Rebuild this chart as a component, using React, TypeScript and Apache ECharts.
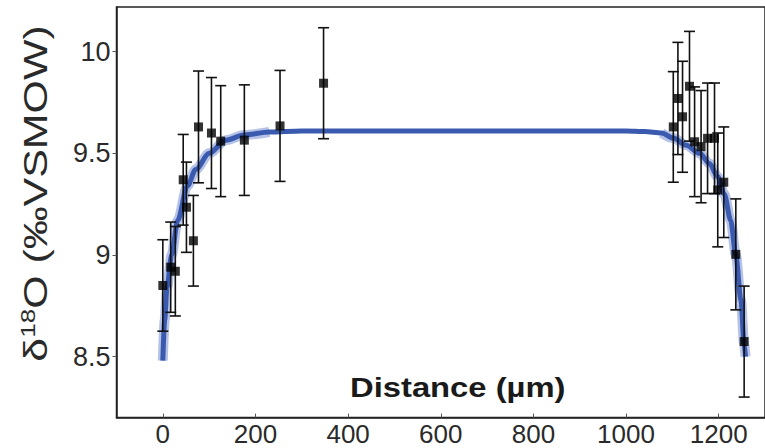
import React, { useEffect, useRef } from "react";
import * as echarts from "echarts";

// Tick labels
const xTicks = [0, 200, 400, 600, 800, 1000, 1200];
const yTicks = [8.5, 9, 9.5, 10];

// Measured points (distance µm, δ18O, error)
const pointX = [0, 17, 27, 44, 51, 66, 77, 105, 125, 176, 253, 347, 1102, 1112, 1122, 1137, 1148, 1162, 1176, 1191, 1198, 1211, 1237, 1255];
const pointY = [8.85, 8.94, 8.92, 9.37, 9.235, 9.07, 9.63, 9.6, 9.56, 9.565, 9.635, 9.845, 9.63, 9.77, 9.68, 9.83, 9.557, 9.533, 9.574, 9.574, 9.32, 9.358, 9.003, 8.574];
const pointErr = [0.225, 0.222, 0.22, 0.223, 0.222, 0.223, 0.275, 0.273, 0.273, 0.272, 0.273, 0.273, 0.272, 0.276, 0.273, 0.27, 0.27, 0.276, 0.272, 0.272, 0.28, 0.272, 0.273, 0.273];

// Model curve
const curveX = [0, 4, 9, 19, 32, 53, 71, 100, 136, 175, 230, 300, 400, 600, 800, 1000, 1040, 1077, 1102, 1130, 1159, 1180, 1198, 1212, 1226, 1237, 1248, 1255, 1258];
const curveY = [8.48, 8.68, 8.84, 9.0, 9.17, 9.34, 9.42, 9.5, 9.565, 9.59, 9.605, 9.61, 9.61, 9.61, 9.61, 9.61, 9.607, 9.6, 9.575, 9.54, 9.5, 9.45, 9.385, 9.3, 9.17, 9.0, 8.78, 8.56, 8.5];

const FONT = '"Liberation Sans", Arial, Helvetica, sans-serif';

export default function App() {
  const ref = useRef<HTMLDivElement>(null);
  useEffect(() => {
    if (!ref.current) return;
    const chart = echarts.init(ref.current, null, { renderer: "svg" });
    const points = pointX.map((x, i) => [x, pointY[i], pointErr[i]]);
    const curve = curveX.map((x, i) => [x, curveY[i]]);
    const bandLeft = curve.filter((p) => p[0] <= 240);
    const bandRight = curve.filter((p) => p[0] >= 1060);
    const bandStyle = { color: "rgba(110,135,205,0.5)", width: 10 };
    const option: any = {
      animation: false,
      backgroundColor: "#ffffff",
      textStyle: { fontFamily: FONT },
      grid: {
        left: 116.5,
        top: 7,
        width: 654.5,
        height: 410.6,
        show: true,
        borderColor: "#222",
        borderWidth: 1.5,
        backgroundColor: "transparent",
      },
      xAxis: {
        type: "value",
        min: -100,
        max: 1300,
        splitLine: { show: false },
        axisLine: { show: true, onZero: false, lineStyle: { color: "#222", width: 1.5 } },
        axisTick: { show: true, inside: true, length: 4, lineStyle: { color: "#555" }, customValues: xTicks },
        axisLabel: {
          customValues: xTicks,
          fontSize: 26,
          lineHeight: 20,
          color: "#2a2a2a",
          margin: 6,
          fontFamily: FONT,
          formatter: (v: number) => String(v),
        },
      },
      yAxis: {
        type: "value",
        min: 8.2,
        max: 10.22,
        splitLine: { show: false },
        axisLine: { show: true, onZero: false, lineStyle: { color: "#222", width: 1.5 } },
        axisTick: { show: true, inside: false, length: 4, lineStyle: { color: "#555" }, customValues: yTicks },
        axisLabel: {
          customValues: yTicks,
          fontSize: 27,
          color: "#2a2a2a",
          margin: 6,
          fontFamily: FONT,
          formatter: (v: number) => String(v),
        },
      },
      series: [
        {
          type: "line",
          data: bandLeft,
          smooth: 0.3,
          smoothMonotone: "x",
          showSymbol: false,
          lineStyle: bandStyle,
          z: 1,
        },
        {
          type: "line",
          data: bandRight,
          smooth: 0.3,
          smoothMonotone: "x",
          showSymbol: false,
          lineStyle: bandStyle,
          z: 1,
        },
        {
          type: "line",
          data: curve,
          smooth: 0.3,
          smoothMonotone: "x",
          showSymbol: false,
          lineStyle: { color: "#3a5ab0", width: 5 },
          z: 2,
        },
        {
          type: "custom",
          data: points,
          encode: { x: 0, y: 1 },
          z: 3,
          renderItem: (params: any, api: any) => {
            const x = api.value(0);
            const y = api.value(1);
            const e = api.value(2);
            const top = api.coord([x, y + e]);
            const bot = api.coord([x, y - e]);
            const hw = 5.5;
            const st = { stroke: "#111", lineWidth: 1.6 };
            return {
              type: "group",
              children: [
                { type: "line", shape: { x1: top[0], y1: top[1], x2: bot[0], y2: bot[1] }, style: st },
                { type: "line", shape: { x1: top[0] - hw, y1: top[1], x2: top[0] + hw, y2: top[1] }, style: st },
                { type: "line", shape: { x1: bot[0] - hw, y1: bot[1], x2: bot[0] + hw, y2: bot[1] }, style: st },
              ],
            };
          },
        },
        {
          type: "scatter",
          data: points.map((p) => [p[0], p[1]]),
          symbol: "rect",
          symbolSize: 9,
          itemStyle: { color: "#000" },
          z: 4,
        },
      ],
      graphic: [
        {
          type: "text",
          x: 350,
          y: 387,
          scaleX: 1.17,
          z: 10,
          style: {
            text: "Distance (µm)",
            fontSize: 28,
            fontWeight: "bold",
            fontFamily: FONT,
            fill: "#1a1a1a",
            align: "left",
            verticalAlign: "middle",
          },
        },
        {
          type: "text",
          x: 35,
          y: 193.5,
          rotation: Math.PI / 2,
          scaleX: 1.3,
          z: 10,
          style: {
            text: "{a|δ}{s|18}{a|O (‰VSMOW)}",
            fill: "#2a2a2a",
            fontFamily: FONT,
            fontSize: 33,
            align: "center",
            verticalAlign: "middle",
            rich: {
              a: { fontSize: 33, fontFamily: FONT, fill: "#2a2a2a" },
              s: { fontSize: 20, fontFamily: FONT, fill: "#2a2a2a", verticalAlign: "top" },
            },
          },
        },
      ],
    };
    chart.setOption(option);
    return () => chart.dispose();
  }, []);
  return (
    <div
      ref={ref}
      style={{ position: "fixed", left: 0, top: 0, width: 765, height: 448, background: "#fff" }}
    />
  );
}
